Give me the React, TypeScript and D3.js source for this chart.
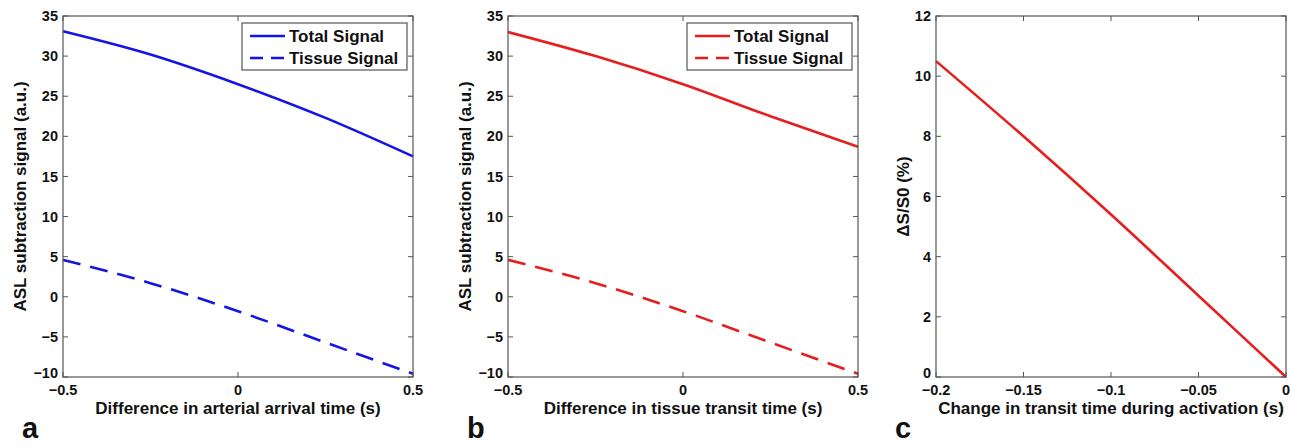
import * as d3 from "d3";

// three matlab style panels (a, b, c)

const xAB = [-0.5, -0.25, 0, 0.25, 0.5];
const totalA = [33.1, 30.2, 26.5, 22.3, 17.5];
const tissueA = [4.6, 1.7, -1.8, -5.7, -9.6];
const totalB = [33.0, 30.0, 26.5, 22.5, 18.7];
const tissueB = [4.6, 1.7, -1.8, -5.7, -9.6];
const xC = [-0.2, -0.15, -0.1, -0.05, 0];
const dsC = [10.5, 8.0, 5.4, 2.7, 0];

const xTicksAB = [-0.5, 0, 0.5];
const yTicksAB = [-10, -5, 0, 5, 10, 15, 20, 25, 30, 35];
const xTicksC = [-0.2, -0.15, -0.1, -0.05, 0];
const yTicksC = [0, 2, 4, 6, 8, 10, 12];
const legendLabels = ["Total Signal", "Tissue Signal"];

const BLUE = "#1414e6";
const RED = "#e61e1e";
const AXIS = "#555";
const FONT = "'Liberation Sans', Arial, sans-serif";

const top = 16;
const bottom = 377;
const plotW = 350;

const fmt = (d: number) => (d < 0 ? "\u2212" + Math.abs(d) : String(d));

type Series = { x: number[]; y: number[]; color: string; dash?: string };

function Panel({
  left,
  xDomain,
  yDomain,
  xTicks,
  yTicks,
  series,
  legend,
  xLabel,
  yLabel,
  letter,
  yLabelX,
}: {
  left: number;
  xDomain: [number, number];
  yDomain: [number, number];
  xTicks: number[];
  yTicks: number[];
  series: Series[];
  legend?: { color: string };
  xLabel: string;
  yLabel: string;
  letter: string;
  yLabelX: number;
}) {
  const x = d3.scaleLinear(xDomain, [left, left + plotW]);
  const y = d3.scaleLinear(yDomain, [bottom, top]);
  const tick = 5;
  return (
    <g>
      {series.map((s, i) => {
        const line = d3
          .line<number>()
          .x((_, j) => x(s.x[j]))
          .y((d) => y(d))
          .curve(d3.curveMonotoneX);
        return (
          <path
            key={i}
            d={line(s.y) || ""}
            fill="none"
            stroke={s.color}
            strokeWidth={2.6}
            strokeDasharray={s.dash}
          />
        );
      })}
      <rect x={left} y={top} width={plotW} height={bottom - top} fill="none" stroke={AXIS} strokeWidth={1.2} />
      {xTicks.map((t) => (
        <g key={"x" + t}>
          <line x1={x(t)} x2={x(t)} y1={bottom} y2={bottom - tick} stroke={AXIS} />
          <line x1={x(t)} x2={x(t)} y1={top} y2={top + tick} stroke={AXIS} />
          <text x={x(t)} y={395} textAnchor="middle" fontSize={14.5} fontWeight="bold" fill="#111">
            {fmt(t)}
          </text>
        </g>
      ))}
      {yTicks.map((t) => (
        <g key={"y" + t}>
          <line x1={left} x2={left + tick} y1={y(t)} y2={y(t)} stroke={AXIS} />
          <line x1={left + plotW} x2={left + plotW - tick} y1={y(t)} y2={y(t)} stroke={AXIS} />
          <text x={left - 5} y={y(t)} dy={t === yDomain[0] ? "0.1em" : "0.35em"} textAnchor="end" fontSize={14.5} fontWeight="bold" fill="#111">
            {fmt(t)}
          </text>
        </g>
      ))}
      <text x={left + plotW / 2} y={414} textAnchor="middle" fontSize={17} fontWeight="bold" fill="#111">
        {xLabel}
      </text>
      <text
        transform={`translate(${yLabelX},${(top + bottom) / 2}) rotate(-90)`}
        textAnchor="middle"
        fontSize={17}
        fontWeight="bold"
        fill="#111"
      >
        {yLabel}
      </text>
      <text x={left - 41} y={438} fontSize={29} fontWeight="bold" fill="#111">
        {letter}
      </text>
      {legend && (
        <g transform={`translate(${left + plotW - 171},23)`}>
          <rect x={0} y={0} width={165} height={47} fill="#fff" stroke={AXIS} strokeWidth={1.2} />
          {legendLabels.map((lab, i) => (
            <g key={lab} transform={`translate(0,${13 + i * 22})`}>
              <line x1={8} x2={43} y1={0} y2={0} stroke={legend.color} strokeWidth={2.6} strokeDasharray={i === 1 ? "13 8" : undefined} />
              <text x={47} y={0} dy="0.35em" fontSize={17} fontWeight="bold" fill="#111">
                {lab}
              </text>
            </g>
          ))}
        </g>
      )}
    </g>
  );
}

export default function App() {
  return (
    <svg
      width={1292}
      height={448}
      style={{ position: "absolute", left: 0, top: 0, background: "#fff" }}
      fontFamily={FONT}
    >
      <Panel
        left={63}
        xDomain={[-0.5, 0.5]}
        yDomain={[-10, 35]}
        xTicks={xTicksAB}
        yTicks={yTicksAB}
        series={[
          { x: xAB, y: totalA, color: BLUE },
          { x: xAB, y: tissueA, color: BLUE, dash: "18 10" },
        ]}
        legend={{ color: BLUE }}
        xLabel="Difference in arterial arrival time (s)"
        yLabel="ASL subtraction signal (a.u.)"
        letter="a"
        yLabelX={26}
      />
      <Panel
        left={508}
        xDomain={[-0.5, 0.5]}
        yDomain={[-10, 35]}
        xTicks={xTicksAB}
        yTicks={yTicksAB}
        series={[
          { x: xAB, y: totalB, color: RED },
          { x: xAB, y: tissueB, color: RED, dash: "18 10" },
        ]}
        legend={{ color: RED }}
        xLabel="Difference in tissue transit time (s)"
        yLabel="ASL subtraction signal (a.u.)"
        letter="b"
        yLabelX={471}
      />
      <Panel
        left={936}
        xDomain={[-0.2, 0]}
        yDomain={[0, 12]}
        xTicks={xTicksC}
        yTicks={yTicksC}
        series={[{ x: xC, y: dsC, color: RED }]}
        xLabel="Change in transit time during activation (s)"
        yLabel={"\u0394S/S0 (%)"}
        letter="c"
        yLabelX={909}
      />
    </svg>
  );
}
